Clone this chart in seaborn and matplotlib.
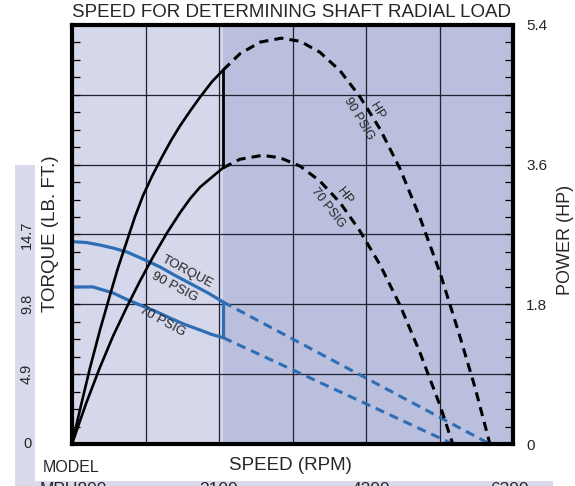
import matplotlib
matplotlib.use("Agg")
import matplotlib.pyplot as plt
import matplotlib.ticker as mticker
from matplotlib.patches import Rectangle
import seaborn as sns

# ---- scales -------------------------------------------------------------
speed_max = 6300
speed_grid = [0, 1050, 2100, 3150, 4200, 5250, 6300]
speed_minor = [i * 262.5 for i in range(25)]
torque_grid = [0, 4.9, 9.8, 14.7, 19.6, 24.5, 29.4]
torque_labels = ["0", "4.9", "9.8", "14.7"]
power_grid = [0, 0.9, 1.8, 2.7, 3.6, 4.5, 5.4]
power_labels = ["0", "", "1.8", "", "3.6", "", "5.4"]
model_row = ["MPU800", "2100", "4200", "6300"]
stall_rpm = 2160  # end of the rated (solid) section

# ---- horsepower curves ----------------------------------------------------
hp90_solid_rpm = [0, 129, 257, 400, 543, 657, 786, 900, 1014, 1143, 1286,
                  1414, 1543, 1686, 1829, 2000, 2160]
hp90_solid = [0, 0.50, 0.98, 1.47, 1.92, 2.27, 2.62, 2.93, 3.20, 3.45, 3.70,
              3.91, 4.10, 4.29, 4.47, 4.67, 4.82]
hp90_dash_rpm = [2160, 2400, 2690, 2990, 3260, 3540, 3830, 4110, 4400,
                 4690, 4970, 5260, 5540, 5760, 5970]
hp90_dash = [4.82, 5.03, 5.18, 5.23, 5.19, 5.05, 4.81, 4.48, 4.06,
             3.54, 2.92, 2.20, 1.39, 0.72, 0]

hp70_solid_rpm = [0, 200, 400, 586, 786, 971, 1157, 1357, 1543, 1686, 1829,
                  2000, 2160]
hp70_solid = [0, 0.52, 0.99, 1.39, 1.77, 2.10, 2.41, 2.72, 2.98, 3.16, 3.31,
              3.44, 3.56]
hp70_dash_rpm = [2160, 2400, 2720, 2970, 3260, 3540, 3830, 4110, 4400,
                 4690, 4970, 5260, 5440]
hp70_dash = [3.56, 3.67, 3.72, 3.69, 3.58, 3.39, 3.11, 2.75, 2.31,
             1.78, 1.18, 0.49, 0]

# ---- torque curves --------------------------------------------------------
tq90_solid_rpm = [0, 200, 400, 586, 786, 1014, 1257, 1486, 1729, 1957, 2160]
tq90_solid = [14.2, 14.14, 13.96, 13.75, 13.47, 12.98, 12.42, 11.79, 11.16,
              10.56, 9.96]
tq90_dash_rpm = [2160, 5970]
tq90_dash = [9.96, 0]

tq70_solid_rpm = [0, 300, 586, 771, 971, 1186, 1400, 1614, 1829, 2000, 2160]
tq70_solid = [11.02, 11.02, 10.60, 10.17, 9.75, 9.33, 8.84, 8.38, 8.0, 7.68, 7.46]
tq70_dash_rpm = [2160, 5440]
tq70_dash = [7.46, 0]

# ---- style ----------------------------------------------------------------
sns.set_style("white")
plt.rcParams["font.family"] = ["Liberation Sans", "DejaVu Sans"]

BLUE = "#2f6db5"
LIGHT = "#d5d8ea"
DARK = "#b9bfdc"
PANEL = "#d9dbec"
GRID = "#1f2233"
DASH = (0, (3, 2))

W, H = 575, 486
fig = plt.figure(figsize=(W / 100, H / 100), dpi=100)
fig.patch.set_facecolor("white")

x0, x1, y_top, y_bot = 72, 513, 25, 444
ax = fig.add_axes([x0 / W, (H - y_bot) / H, (x1 - x0) / W, (y_bot - y_top) / H])
axr = ax.twinx()

ax.set_xlim(0, speed_max)
ax.set_ylim(0, torque_grid[-1])
axr.set_ylim(0, power_grid[-1])

# background bands: rated range vs. free-running range
ax.axvspan(0, stall_rpm, color=LIGHT, zorder=0.2, lw=0)
ax.axvspan(stall_rpm, speed_max, color=DARK, zorder=0.2, lw=0)

# grid and ticks
ax.xaxis.set_major_locator(mticker.FixedLocator(speed_grid))
ax.xaxis.set_minor_locator(mticker.FixedLocator(speed_minor))
ax.yaxis.set_major_locator(mticker.FixedLocator(torque_grid))
ax.yaxis.set_minor_locator(mticker.FixedLocator([i * 1.225 for i in range(25)]))
axr.yaxis.set_major_locator(mticker.FixedLocator(power_grid))
axr.yaxis.set_minor_locator(mticker.FixedLocator([i * 0.225 for i in range(25)]))
axr.yaxis.set_major_formatter(mticker.FixedFormatter(power_labels))
ax.grid(True, which="major", color=GRID, lw=0.9)
ax.set_axisbelow("line")

ax.tick_params(axis="both", which="both", direction="in", length=6, width=0.9,
               color="black", labelleft=False, labelbottom=False,
               top=False, right=False)
axr.tick_params(axis="y", which="both", direction="in", length=6, width=0.9,
                color="black", labelsize=11, pad=9.5, left=False, right=True)
axr.tick_params(axis="x", which="both", top=False, bottom=False)

for sp in ax.spines.values():
    sp.set_linewidth(3.0)
    sp.set_color("black")
    sp.set_zorder(5)
for sp in axr.spines.values():
    sp.set_visible(False)


def curve(axis, rpm, vals, color, lw, dashed=False):
    kw = dict(linestyle=DASH) if dashed else {}
    sns.lineplot(x=rpm, y=vals, ax=axis, color=color, lw=lw,
                 estimator=None, sort=False, legend=False, **kw)


# torque (left scale)
curve(ax, tq90_solid_rpm, tq90_solid, BLUE, 2.3)
curve(ax, tq70_solid_rpm, tq70_solid, BLUE, 2.3)
curve(ax, tq90_dash_rpm, tq90_dash, BLUE, 2.2, dashed=True)
curve(ax, tq70_dash_rpm, tq70_dash, BLUE, 2.2, dashed=True)
ax.vlines(stall_rpm, tq70_solid[-1], tq90_solid[-1], color=BLUE, lw=2.3)

# horsepower (right scale)
curve(axr, hp90_solid_rpm, hp90_solid, "black", 1.9)
curve(axr, hp70_solid_rpm, hp70_solid, "black", 1.9)
curve(axr, hp90_dash_rpm, hp90_dash, "black", 2.2, dashed=True)
curve(axr, hp70_dash_rpm, hp70_dash, "black", 2.2, dashed=True)
axr.vlines(stall_rpm, hp70_solid[-1], hp90_solid[-1], color="black", lw=2.0)

for a in (ax, axr):
    a.set_xlabel("")
    a.set_ylabel("")

# curve annotations
ax.text(1643, 12.07, "TORQUE", rotation=-28, ha="center", va="center", fontsize=9.5)
ax.text(1471, 11.02, "90 PSIG", rotation=-28, ha="center", va="center", fontsize=9.5)
ax.text(1286, 8.56, "70 PSIG", rotation=-29, ha="center", va="center", fontsize=9.5)
axr.text(4357, 4.29, "HP", rotation=-59, ha="center", va="center", fontsize=9)
axr.text(4100, 4.19, "90 PSIG", rotation=-59, ha="center", va="center", fontsize=9)
axr.text(3900, 3.20, "HP", rotation=-52, ha="center", va="center", fontsize=9)
axr.text(3657, 3.04, "70 PSIG", rotation=-52, ha="center", va="center", fontsize=9)

# left torque scale labels
for val, lab in zip(torque_grid, torque_labels):
    ax.text(-0.102, val, lab, transform=ax.get_yaxis_transform(),
            rotation=0 if lab == "0" else 90, ha="center", va="center",
            fontsize=10.5)

# axis titles
ax.text(-0.048, 0.503, "TORQUE (LB. FT.)", transform=ax.transAxes, rotation=90,
        ha="center", va="center", fontsize=13.5)
ax.text(1.118, 0.487, "POWER (HP)", transform=ax.transAxes, rotation=90,
        ha="center", va="center", fontsize=13)
fig.text(291 / W, 1 - 17 / H, "SPEED FOR DETERMINING SHAFT RADIAL LOAD",
         ha="center", va="baseline", fontsize=13.5)
fig.text(290 / W, 1 - 470 / H, "SPEED (RPM)", ha="center", va="baseline", fontsize=13.5)
fig.text(43 / W, 1 - 472 / H, "MODEL", ha="left", va="baseline", fontsize=11.5)

# model table panels
fig.patches.append(Rectangle((15 / W, 0), 20 / W, (H - 165) / H,
                             transform=fig.transFigure, color=PANEL, lw=0, zorder=-1))
fig.patches.append(Rectangle((15 / W, 0), (553 - 15) / W, (H - 481) / H,
                             transform=fig.transFigure, color=PANEL, lw=0, zorder=-1))
row_x = [40, 218, 371, 509]
for xx, lab in zip(row_x, model_row):
    fig.text(xx / W, 1 - 482 / H, lab, ha="left" if lab == model_row[0] else "center",
             va="top", fontsize=12.5)

fig.savefig("out.png", dpi=100)
